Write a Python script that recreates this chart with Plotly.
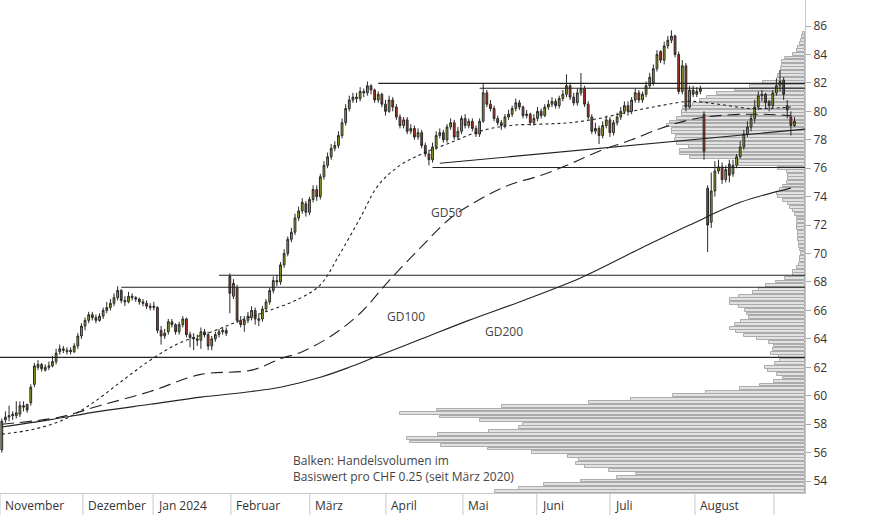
import plotly.graph_objects as go

# ---------------- data ----------------
opens = [56.2,58.3,58.5,58.7,58.6,58.7,59.3,59.4,59.5,60.8,62.0,62.2,61.8,62.0,62.1,62.4,63.1,63.3,63.1,63.2,63.1,63.5,
 64.2,64.9,65.3,65.7,65.5,65.3,65.6,66.0,66.2,66.5,66.9,67.4,66.7,66.6,67.0,66.9,66.8,66.6,66.5,66.3,66.2,
 66.2,64.6,64.2,64.5,65.2,65.0,64.5,65.0,65.4,64.3,64.1,64.0,63.9,64.5,64.3,63.5,64.0,64.3,64.5,64.6,68.4,67.0,67.6,
 65.3,65.0,65.3,65.5,66.0,65.3,65.4,66.1,66.6,67.4,68.1,68.0,69.2,70.0,71.0,71.5,72.5,73.0,73.5,72.9,73.8,
 74.5,74.0,75.4,76.2,76.8,77.4,77.6,78.3,79.2,80.2,80.8,81.0,80.9,81.4,81.3,81.8,81.5,80.8,81.2,80.5,80.0,
 80.8,80.3,79.6,79.0,79.4,78.6,78.8,78.2,78.5,77.6,77.0,76.6,77.5,78.3,78.5,78.0,78.9,79.2,78.2,78.6,79.5,79.0,
 79.3,78.8,78.4,79.3,81.3,80.5,80.2,79.5,79.2,79.0,79.6,79.8,80.2,80.6,80.3,79.7,79.8,79.2,79.5,80.0,79.7,80.3,80.5,
 80.7,80.4,80.9,81.2,81.8,81.0,80.6,81.3,81.6,80.5,79.6,78.6,78.8,78.3,79.0,79.4,78.5,79.2,79.6,80.0,
 80.4,80.0,80.8,81.3,80.8,81.2,81.8,82.0,83.0,84.2,83.6,84.6,85.0,85.3,84.0,81.4,83.2,80.3,81.5,81.2,81.4,
 79.8,74.6,72.2,74.4,75.8,76.1,75.2,76.3,75.6,76.2,76.8,77.5,78.4,78.9,79.5,80.3,81.1,81.2,80.7,80.4,81.3,81.8,82.2,80.4,79.6,79.0]
closes = [58.2,58.5,58.6,58.6,58.8,59.3,59.2,59.0,60.6,62.1,62.2,61.9,62.0,62.1,62.4,63.0,63.3,63.2,63.2,63.1,63.5,64.2,
 64.9,65.3,65.7,65.5,65.3,65.6,66.0,66.2,66.5,66.9,67.4,66.7,66.6,67.0,66.9,66.8,66.6,66.5,66.3,66.2,66.3,
 64.6,64.2,64.4,65.2,65.0,64.5,65.0,65.4,64.3,64.1,64.0,63.9,64.5,64.3,63.5,64.0,64.3,64.5,64.6,64.4,67.2,67.9,65.3,
 65.0,65.3,65.6,66.0,65.4,65.4,66.1,66.6,67.4,68.1,68.0,69.2,70.0,71.0,71.5,72.5,73.0,73.6,72.9,73.8,74.5,
 74.0,75.4,76.2,76.8,77.4,77.6,78.3,79.2,80.2,80.8,81.0,80.9,81.4,81.3,81.8,81.5,80.8,81.2,80.5,80.0,80.8,
 80.3,79.6,79.0,79.4,78.6,78.8,78.2,78.5,77.6,77.0,76.6,77.5,78.3,78.5,78.0,78.9,79.2,78.2,78.6,79.5,79.0,79.3,
 78.8,78.4,79.3,81.3,80.5,80.2,79.5,79.2,79.0,79.6,79.8,80.2,80.6,80.3,79.7,79.8,79.2,79.5,80.0,79.7,80.3,80.5,80.7,
 80.4,80.9,81.2,81.8,81.0,80.6,81.3,81.6,80.5,79.6,78.6,78.8,78.3,79.0,79.4,78.5,79.2,79.6,80.0,80.4,
 80.0,80.8,81.3,80.8,81.2,81.8,82.4,83.0,84.0,83.6,84.6,85.0,85.3,84.0,81.4,83.2,80.3,81.5,81.2,81.4,81.6,
 77.2,72.0,74.4,75.8,76.1,75.2,75.9,75.5,76.2,76.8,77.5,78.4,78.9,79.5,80.3,81.1,81.2,80.6,80.4,81.3,81.8,82.1,81.2,80.1,79.0,79.3]
highs = [58.4,58.9,59.3,58.9,59.6,59.6,59.6,59.4,60.8,62.3,62.5,62.3,62.2,62.4,62.8,63.3,63.6,63.5,63.4,63.4,63.7,64.4,
 65.1,65.5,65.9,65.9,65.7,65.8,66.2,66.6,66.8,67.2,67.7,67.5,67.0,67.3,67.2,67.0,66.9,66.8,66.7,66.5,66.6,
 66.3,64.9,64.7,65.4,65.4,65.1,65.2,65.6,65.5,64.5,64.4,64.3,64.8,64.7,64.5,64.2,64.5,64.7,64.8,64.8,68.6,68.2,67.8,
 65.6,65.6,65.9,66.3,66.2,65.8,66.3,66.8,67.6,68.4,68.5,69.4,70.3,71.2,71.8,72.8,73.3,73.9,73.7,74.0,74.8,
 74.8,75.6,76.5,77.1,77.7,77.9,78.6,79.5,80.5,81.1,81.3,81.3,81.7,81.6,82.1,81.9,81.6,81.4,81.3,80.8,81.1,
 81.0,80.5,79.8,79.6,79.6,79.1,79.0,78.8,78.7,77.8,77.3,77.8,78.6,78.8,78.7,79.1,79.5,79.4,78.9,79.7,79.8,79.5,
 79.5,79.0,79.5,82.0,81.5,80.8,80.4,79.7,79.4,79.8,80.1,80.4,80.9,80.8,80.4,80.1,79.9,79.8,80.3,80.2,80.5,80.8,81.0,
 80.9,81.1,81.5,82.6,82.0,81.3,81.6,82.7,81.8,80.7,79.8,79.2,79.0,79.3,79.7,79.6,79.4,79.9,80.3,80.7,
 80.7,81.0,81.6,81.5,81.4,82.1,82.7,83.3,84.3,84.3,84.9,85.3,85.7,85.4,84.2,83.6,83.4,81.8,81.8,81.7,81.8,
 80.0,74.8,75.7,76.5,76.6,76.4,76.2,76.6,76.6,77.0,77.9,78.7,79.3,79.8,80.8,81.4,81.5,81.3,80.8,81.5,82.3,82.9,82.4,80.8,80.0,79.6]
lows = [56.0,58.1,58.2,58.3,58.4,58.5,58.9,58.8,59.3,60.6,61.8,61.7,61.7,61.8,62.0,62.2,62.9,63.0,62.9,62.9,63.0,63.3,
 64.0,64.6,65.1,65.3,65.1,65.2,65.4,65.8,66.0,66.3,66.7,66.5,66.3,66.5,66.7,66.6,66.4,66.3,66.1,66.0,66.0,
 64.4,63.6,64.0,64.3,64.8,64.3,64.3,64.8,64.1,63.4,63.2,63.5,63.3,64.1,63.2,63.2,63.8,64.1,64.3,64.2,65.8,66.8,65.1,
 64.8,64.5,65.1,65.3,65.0,64.9,65.2,65.9,66.4,67.2,67.7,67.8,69.0,69.8,70.8,71.3,72.3,72.8,72.6,72.7,73.6,
 73.7,73.8,75.2,76.0,76.6,77.2,77.4,78.1,79.0,80.0,80.6,80.6,80.7,81.0,81.1,81.2,80.6,80.6,80.3,79.7,79.9,
 80.0,79.4,78.8,78.8,78.4,78.4,78.0,78.0,77.4,76.8,76.2,76.4,77.3,78.1,77.8,77.8,78.7,78.0,78.0,78.4,78.8,78.8,
 78.6,78.2,78.2,79.2,80.3,80.0,79.3,79.0,78.7,78.8,79.4,79.6,80.0,80.1,79.5,79.5,79.0,79.0,79.3,79.5,79.6,80.1,80.3,
 80.2,80.2,80.7,81.0,80.8,80.4,80.4,81.1,80.3,79.4,78.4,78.4,77.7,78.1,78.8,78.2,78.3,79.0,79.4,79.8,
 79.7,79.8,80.6,80.6,80.6,81.0,81.6,81.8,82.8,83.4,83.3,84.4,84.8,83.8,81.2,81.2,80.0,80.2,81.0,81.0,81.2,
 76.6,70.1,71.8,74.0,75.6,74.9,75.0,75.0,75.4,76.0,76.7,77.3,78.2,78.6,79.2,80.1,80.7,80.2,80.0,80.2,81.1,81.4,80.8,79.5,78.3,78.9]

# moving averages (sampled: day index -> value)
gd50_idx = [0,8,16,24,33,41,49,58,66,74,82,88,93,99,104,110,116,124,132,140,149,157,165,174,182,190,198,207,218]
gd50_val = [57.3,57.6,58.2,59.3,61.0,62.5,63.7,64.5,65.3,66.0,66.8,67.8,69.8,72.5,74.8,76.2,77.0,77.8,78.6,79.0,79.1,79.2,79.5,80.0,80.4,80.7,80.5,80.2,80.3]
gd100_idx = [0,16,27,41,55,69,77,83,91,99,107,116,124,132,140,149,157,165,174,182,190,198,209,218]
gd100_val = [58.0,58.5,59.3,60.3,61.5,61.8,62.6,63.1,64.2,65.8,68.1,70.5,72.5,73.8,74.8,75.5,76.3,77.2,78.0,78.8,79.4,79.7,79.8,79.7]
gd200_idx = [0,13,27,41,55,69,77,88,96,103,116,129,143,160,176,190,204,218]
gd200_val = [57.8,58.3,58.9,59.4,59.9,60.3,60.6,61.3,62.0,62.7,64.0,65.3,66.6,68.3,70.3,72.0,73.6,74.6]

# support / resistance lines: (level, start index)
hlines = [(62.70, -1), (67.63, 33), (68.47, 60), (76.05, 119), (81.97, 104), (81.62, 132)]
trend_idx = [121, 222]
trend_val = [76.35, 78.75]

# volume profile (price bin, relative length)
vp_price = [53.25,53.5,53.75,54.0,54.25,54.5,54.75,55.0,55.25,55.5,55.75,56.0,56.25,56.5,56.75,57.0,57.25,57.5,57.75,58.0,
 58.25,58.5,58.75,59.0,59.25,59.5,59.75,60.0,60.25,60.5,60.75,61.0,61.25,61.5,61.75,62.0,62.25,62.5,62.75,63.0,
 63.25,63.5,63.75,64.0,64.25,64.5,64.75,65.0,65.25,65.5,65.75,66.0,66.25,66.5,66.75,67.0,67.25,67.5,67.75,68.0,
 68.25,68.5,68.75,69.0,69.25,69.5,69.75,70.0,70.25,70.5,70.75,71.0,71.25,71.5,71.75,72.0,72.25,72.5,72.75,73.0,
 73.25,73.5,73.75,74.0,74.25,74.5,74.75,75.0,75.25,75.5,75.75,76.0,76.25,76.5,76.75,77.0,77.25,77.5,77.75,78.0,
 78.25,78.5,78.75,79.0,79.25,79.5,79.75,80.0,80.25,80.5,80.75,81.0,81.25,81.5,81.75,82.0,82.25,82.5,82.75,83.0,
 83.25,83.5,83.75,84.0,84.25,84.5,84.75,85.0,85.25,85.5]
vp_len = [310,286,261,224,188,169,196,220,229,226,237,273,317,364,395,398,367,316,286,282,
 325,365,405,368,303,216,174,132,99,65,45,31,22,28,37,40,30,25,26,34,
 32,31,36,48,61,69,75,70,64,56,58,60,66,75,75,66,52,46,39,29,
 20,12,12,8,6,5,5,4,5,6,6,7,7,7,8,8,8,8,10,12,
 15,17,22,27,28,25,22,18,17,17,18,27,66,66,115,125,125,116,128,130,
 129,133,133,138,135,128,123,123,122,112,105,98,88,70,55,42,28,27,25,24,
 23,23,20,12,8,7,5,4,3,2]

months = ["November", "Dezember", "Jan 2024", "Februar", "März", "April", "Mai", "Juni", "Juli", "August", ""]
month_start = [-0.5, 22.4, 41.8, 63.3, 85.1, 106.1, 127.4, 147.8, 168.0, 191.5, 213.3]

# ---------------- figure ----------------
x = list(range(len(closes)))
fig = go.Figure()

# volume profile on primary (reversed) x axis -> drawn underneath
fig.add_trace(go.Bar(y=vp_price, x=vp_len, orientation="h", xaxis="x", yaxis="y",
                     width=0.2, marker=dict(color="#e2e2e2", line=dict(color="#ababab", width=1)),
                     hoverinfo="skip", showlegend=False))

X2 = dict(xaxis="x2", yaxis="y")
fig.add_trace(go.Scatter(x=gd200_idx, y=gd200_val, mode="lines", line=dict(color="#222", width=1.1, shape="spline"), showlegend=False, **X2))
fig.add_trace(go.Scatter(x=gd100_idx, y=gd100_val, mode="lines", line=dict(color="#222", width=1.1, dash="12px,6px", shape="spline"), showlegend=False, **X2))
fig.add_trace(go.Scatter(x=gd50_idx, y=gd50_val, mode="lines", line=dict(color="#222", width=1.1, dash="3px,3px", shape="spline"), showlegend=False, **X2))
fig.add_trace(go.Scatter(x=trend_idx, y=trend_val, mode="lines", line=dict(color="#222", width=1.1), showlegend=False, **X2))
for lvl, st in hlines:
    fig.add_trace(go.Scatter(x=[st, 222.5], y=[lvl, lvl], mode="lines", line=dict(color="#222", width=1.1), showlegend=False, **X2))

fig.add_trace(go.Candlestick(x=x, open=opens, high=highs, low=lows, close=closes,
    increasing=dict(fillcolor="#9aa81c", line=dict(color="#2a2a2a", width=1)),
    decreasing=dict(fillcolor="#b8301e", line=dict(color="#2a2a2a", width=1)),
    whiskerwidth=0, showlegend=False, **X2))

shapes = []
for ms in month_start:
    shapes.append(dict(type="line", xref="x2", yref="paper", x0=ms, x1=ms, y0=0, y1=-0.045,
                       line=dict(color="#c8c8c8", width=1)))
annotations = []
for m, ms in zip(months, month_start):
    if m:
        annotations.append(dict(x=ms + 0.8, y=-0.004, xref="x2", yref="paper", text=m, showarrow=False,
                                xanchor="left", yanchor="top", font=dict(size=12, color="#333")))
for txt, xi, yv in [("GD50", 118, 72.9), ("GD100", 106, 65.6), ("GD200", 133, 64.5)]:
    annotations.append(dict(x=xi, y=yv, xref="x2", yref="y", text=txt, showarrow=False,
                            xanchor="left", font=dict(size=12, color="#444")))
annotations.append(dict(x=79.8, y=56.2, xref="x2", yref="y", showarrow=False, xanchor="left", yanchor="top", align="left",
                        text="Balken: Handelsvolumen im<br>Basiswert pro CHF 0.25 (seit März 2020)",
                        font=dict(size=12, color="#444")))

fig.update_layout(
    width=874, height=515, margin=dict(l=0, r=69, t=0, b=22, autoexpand=False),
    paper_bgcolor="white", plot_bgcolor="white",
    font=dict(family="Open Sans, sans-serif"),
    xaxis=dict(range=[805, 0], showgrid=False, showticklabels=False, ticks="", zeroline=False,
               showline=True, linecolor="#c8c8c8"),
    xaxis2=dict(overlaying="x", range=[-0.5, 221.9], showgrid=False, showticklabels=False, ticks="",
                zeroline=False, rangeslider=dict(visible=False), showline=False),
    yaxis=dict(range=[53.16, 87.83], side="right", dtick=2, tick0=0, showgrid=False, zeroline=False,
               ticks="outside", ticklen=5, tickcolor="#aaa", showline=True, linecolor="#c8c8c8",
               tickfont=dict(size=12, color="#333")),
    shapes=shapes, annotations=annotations, showlegend=False, bargap=0,
)
fig.write_html("out.html", config={"displayModeBar": False},
               post_script="document.body.style.margin='0';document.body.style.overflow='hidden';")
